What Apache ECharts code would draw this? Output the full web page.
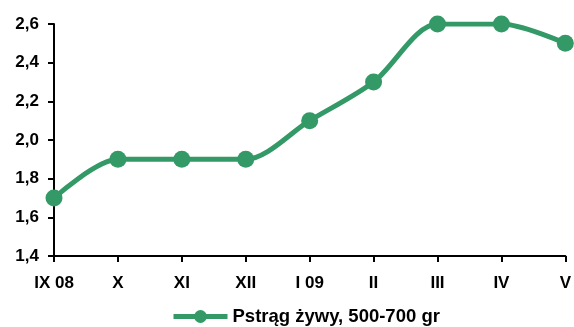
<!DOCTYPE html>
<html><head><meta charset="utf-8">
<script src="https://cdn.jsdelivr.net/npm/echarts@6/dist/echarts.min.js"></script>
<style>html,body{margin:0;padding:0;background:#fff}#c{width:574px;height:327px}</style>
</head><body><div id="c"></div>
<script>
const categories = ['IX 08','X','XI','XII','I 09','II','III','IV','V'];
const values = [1.7, 1.9, 1.9, 1.9, 2.1, 2.3, 2.6, 2.6, 2.5];
const seriesName = 'Pstrąg żywy, 500-700 gr';
const chart = echarts.init(document.getElementById('c'));
const font = {fontFamily:'Liberation Sans, Arial, sans-serif', fontWeight:'bold', fontSize:17, color:'#000'};
chart.setOption({
  animation:false,
  grid:{left:54, right:7, top:24, bottom:71, containLabel:false},
  legend:{top:305, left:166, padding:[2,5,2,5], itemWidth:54, itemHeight:16, itemGap:6,
    textStyle:Object.assign({}, font, {fontSize:18.5}),
    lineStyle:{width:5}, data:[seriesName]},
  xAxis:{type:'category', data:categories, boundaryGap:false,
    axisLine:{lineStyle:{color:'#000', width:2}},
    axisTick:{show:true, length:6, lineStyle:{color:'#000', width:2}},
    axisLabel:Object.assign({margin:19}, font)},
  yAxis:{type:'value', min:1.4, max:2.6, interval:0.2,
    axisLine:{show:true, lineStyle:{color:'#000', width:2}},
    axisTick:{show:true, length:6, lineStyle:{color:'#000', width:2}},
    splitLine:{show:false},
    axisLabel:Object.assign({margin:15, formatter:v=>v.toFixed(1).replace('.',',')}, font)},
  series:[{name:seriesName, type:'line', data:values, smooth:0.3,
    symbol:'circle', symbolSize:17,
    lineStyle:{color:'#339966', width:5},
    itemStyle:{color:'#339966'}}]
});
</script></body></html>
